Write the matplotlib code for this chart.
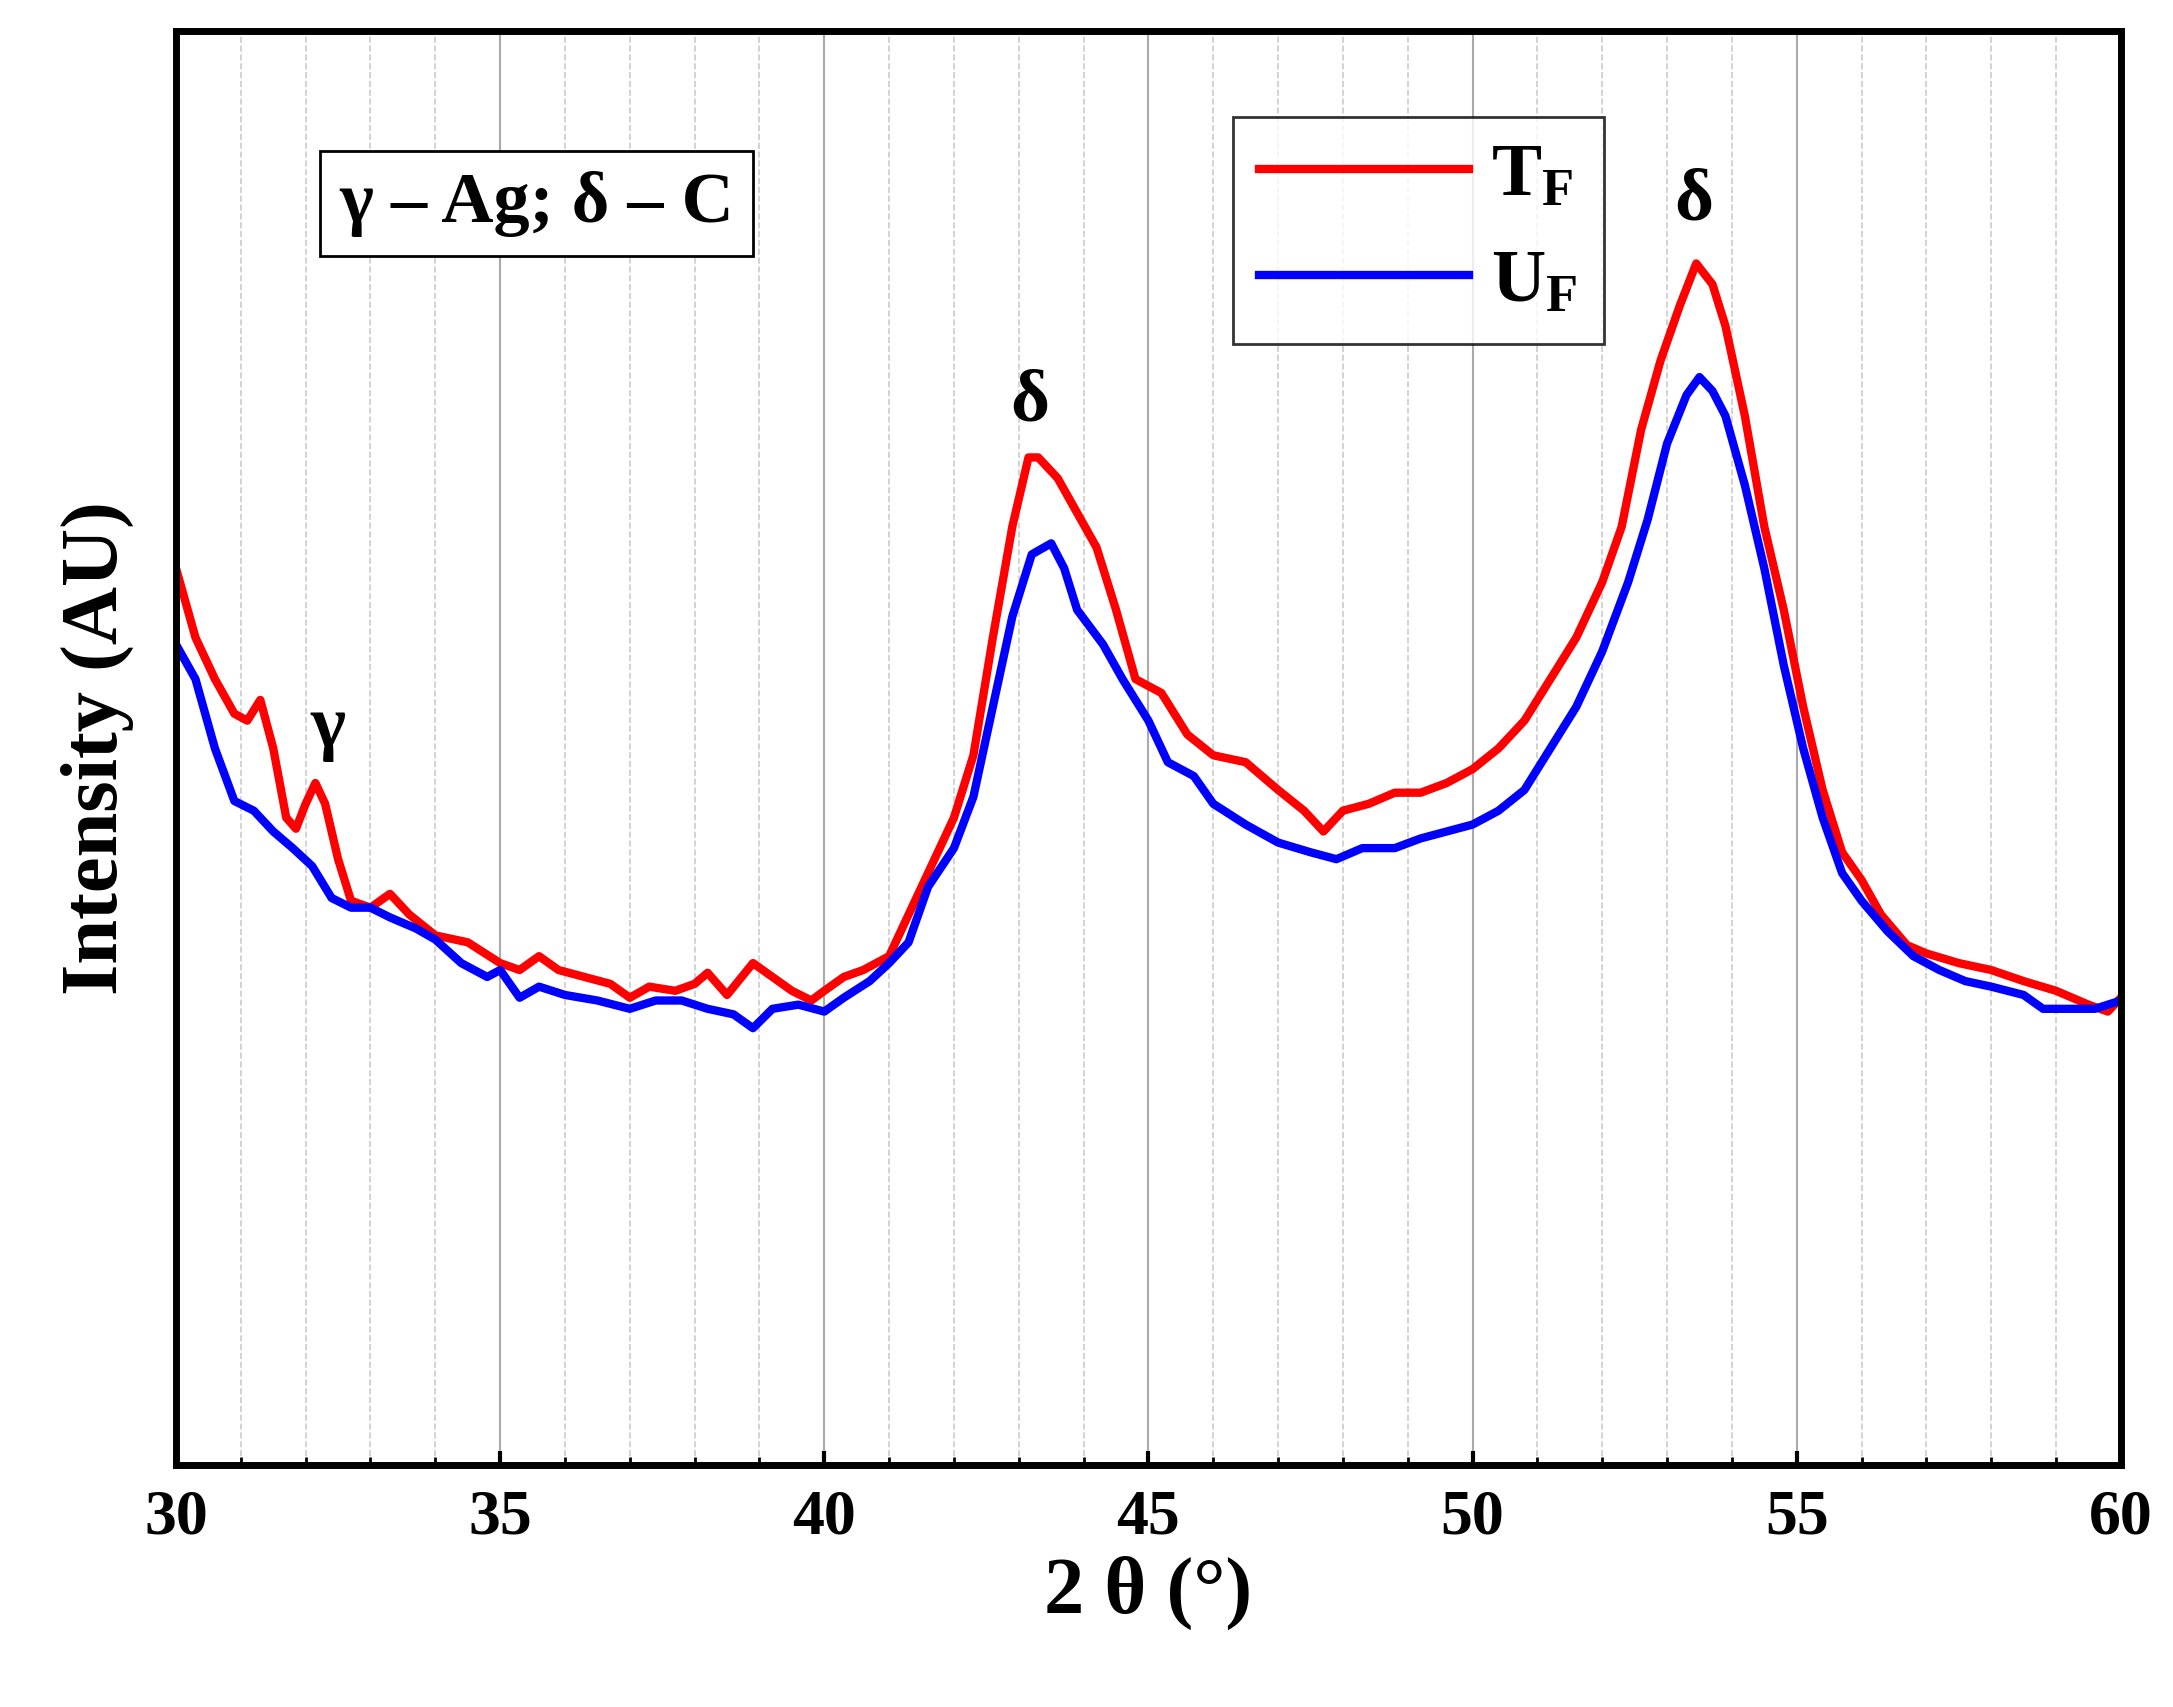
import numpy as np
import matplotlib.pyplot as plt

plt.rcParams['font.family'] = ['Liberation Serif', 'DejaVu Serif']
plt.rcParams['font.weight'] = 'bold'
plt.rcParams['mathtext.fontset'] = 'custom'
plt.rcParams['mathtext.rm'] = 'Liberation Serif:bold'
plt.rcParams['mathtext.bf'] = 'Liberation Serif:bold'
plt.rcParams['mathtext.it'] = 'Liberation Serif:bold'

# datos (2theta, intensidad en unidades arbitrarias)
tf_x = [30, 30.3, 30.6, 30.9, 31.1, 31.3, 31.5, 31.7, 31.85, 32.0, 32.15, 32.3, 32.5, 32.7, 33, 33.3, 33.6, 34, 34.5, 35,
        35.3, 35.6, 35.9, 36.3, 36.7, 37, 37.3, 37.7, 38.0, 38.2, 38.5, 38.9, 39.2, 39.5, 39.8, 40.0, 40.3, 40.6, 41, 41.3,
        41.6, 42, 42.3, 42.6, 42.9, 43.15, 43.3, 43.6, 43.9, 44.2, 44.5, 44.8, 45.2, 45.6, 46, 46.5, 47, 47.4, 47.7, 48,
        48.4, 48.8, 49.2, 49.6, 50, 50.4, 50.8, 51.2, 51.6, 52, 52.3, 52.6, 52.9, 53.2, 53.45, 53.7, 53.9, 54.2, 54.5, 54.8,
        55.1, 55.4, 55.7, 56, 56.3, 56.7, 57, 57.5, 58, 58.5, 59, 59.5, 59.8, 60]
tf_pix = [410, 460, 490, 515, 520, 505, 540, 590, 598, 580, 565, 580, 620, 650, 655, 645, 660, 675, 680, 695,
          700, 690, 700, 705, 710, 720, 712, 715, 710, 702, 718, 695, 705, 715, 722, 715, 705, 700, 690, 660,
          630, 590, 545, 460, 380, 330, 330, 345, 370, 395, 440, 490, 500, 530, 545, 550, 570, 585, 600, 585,
          580, 572, 572, 565, 555, 540, 520, 490, 460, 420, 380, 310, 260, 220, 190, 205, 235, 300, 380, 440,
          510, 570, 615, 635, 660, 682, 688, 695, 700, 708, 715, 725, 730, 720]

uf_x = [30, 30.3, 30.6, 30.9, 31.2, 31.5, 31.8, 32.1, 32.4, 32.7, 33, 33.3, 33.7, 34, 34.4, 34.8, 35, 35.3, 35.6, 36,
        36.5, 37, 37.4, 37.8, 38.2, 38.6, 38.9, 39.2, 39.6, 40, 40.3, 40.7, 41, 41.3, 41.6, 42, 42.3, 42.6, 42.9, 43.2,
        43.5, 43.7, 43.9, 44.3, 44.6, 45, 45.3, 45.7, 46, 46.5, 47, 47.5, 47.9, 48.3, 48.8, 49.2, 49.6, 50, 50.4, 50.8,
        51.2, 51.6, 52, 52.4, 52.7, 53, 53.3, 53.5, 53.7, 53.9, 54.2, 54.5, 54.8, 55.1, 55.4, 55.7, 56, 56.4, 56.8, 57.2,
        57.6, 58, 58.5, 58.8, 59.2, 59.6, 60]
uf_pix = [465, 490, 540, 578, 585, 600, 612, 625, 648, 655, 655, 662, 670, 678, 695, 705, 700, 720, 712, 718,
          722, 728, 722, 722, 728, 732, 742, 728, 725, 730, 720, 708, 695, 680, 640, 612, 575, 510, 445, 400,
          392, 410, 440, 465, 490, 520, 550, 560, 580, 595, 608, 615, 620, 612, 612, 605, 600, 595, 585, 570,
          540, 510, 470, 420, 375, 320, 285, 272, 282, 300, 350, 410, 480, 540, 590, 630, 650, 672, 690, 700,
          708, 712, 718, 728, 728, 728, 722]

tf = 1057 - np.array(tf_pix)
uf = 1057 - np.array(uf_pix)

fig = plt.figure(figsize=(21.73, 17.07), dpi=100)
ax = fig.add_axes([0.081, 0.142, 0.895, 0.84])

ax.plot(tf_x, tf, color='red', lw=6, label='T$_\\mathbf{F}$')
ax.plot(uf_x, uf, color='blue', lw=6, label='U$_\\mathbf{F}$')

ax.set_xlim(30, 60)
ax.set_ylim(0, 1035)
ax.set_xticks(np.arange(30, 61, 5))
ax.set_xticks(np.arange(30, 61, 1), minor=True)
ax.set_yticks([])
ax.grid(True, which='major', axis='x', color='#aaaaaa', lw=1.5)
ax.grid(True, which='minor', axis='x', color='#cccccc', lw=1.2, ls='--')
ax.tick_params(axis='x', which='major', direction='in', length=10, width=3, labelsize=46, pad=18)
ax.tick_params(axis='x', which='minor', direction='in', length=6, width=2)
for s in ax.spines.values():
    s.set_linewidth(5)

ax.set_xlabel('2 θ (°)', fontsize=58, fontweight='bold', labelpad=6)
ax.set_ylabel('Intensity (AU)', fontsize=58, fontweight='bold', labelpad=30)

ax.text(35.56, 910, 'γ – Ag; δ – C', fontsize=52, ha='center', va='center',
        bbox=dict(facecolor='white', edgecolor='black', lw=2, pad=14))
ax.text(32.35, 532, 'γ', fontsize=54, ha='center', va='center')
ax.text(43.17, 767, 'δ', fontsize=54, ha='center', va='center')
ax.text(53.41, 912, 'δ', fontsize=54, ha='center', va='center')

leg = ax.legend(loc='upper left', bbox_to_anchor=(0.524, 0.966), fontsize=54, frameon=True,
                fancybox=False, handlelength=2.8, handletextpad=0.3, borderpad=0.35, labelspacing=0.5)
leg.get_frame().set_edgecolor('black')
leg.get_frame().set_linewidth(2)

fig.savefig('out.png', dpi=100)
